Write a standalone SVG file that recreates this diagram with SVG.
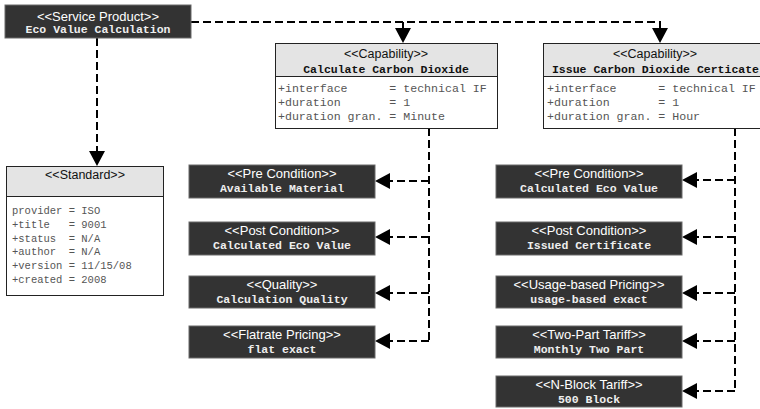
<svg xmlns="http://www.w3.org/2000/svg" width="760" height="409" viewBox="0 0 760 409">
  <style>
    .dark rect { fill: #333333; stroke: #6a6a6a; stroke-width: 1; }
    .st { font-family: "Liberation Sans", Arial, sans-serif; font-size: 13px; text-anchor: middle; }
    .dark .st { fill: #ffffff; }
    .nm { font-family: "Liberation Mono", "Courier New", monospace; font-size: 11.5px; font-weight: bold; text-anchor: middle; }
    .dark .nm { fill: #eeeeee; }
    .light .nm { fill: #111111; }
    .light .st { fill: #111111; font-size: 12.5px; }
    .hdr { fill: #e4e4e4; stroke: #222222; stroke-width: 1; }
    .body { fill: #ffffff; stroke: #222222; stroke-width: 1; }
    .attr { font-family: "Liberation Mono", "Courier New", monospace; font-size: 11.6px; fill: #555555; white-space: pre; }
    .attr.small { font-size: 10.5px; }
    .conn path { fill: none; stroke: #000000; stroke-width: 2; stroke-dasharray: 8 4; }
    .conn polygon { fill: #000000; stroke: none; }
  </style>

  <!-- connectors -->
  <g id="connectors" class="conn">
    <!-- service product to capabilities and standard -->
    <path d="M191,22 H660 V29"/>
    <path d="M403,22 V29"/>
    <polygon points="395,28 411,28 403,43"/>
    <polygon points="652,28 668,28 660,43"/>
    <path d="M97,38 V152"/>
    <polygon points="89,151 105,151 97,166"/>

    <!-- capability 1 to its properties -->
    <path d="M429,128 V341"/>
    <path d="M429,181 H389"/>
    <path d="M429,237 H389"/>
    <path d="M429,293 H389"/>
    <path d="M429,341 H389"/>
    <polygon points="375,181 390,173 390,189"/>
    <polygon points="375,237 390,229 390,245"/>
    <polygon points="375,293 390,285 390,301"/>
    <polygon points="375,341 390,333 390,349"/>

    <!-- capability 2 to its properties -->
    <path d="M735,128 V391"/>
    <path d="M735,180 H696"/>
    <path d="M735,237 H696"/>
    <path d="M735,293 H696"/>
    <path d="M735,341 H696"/>
    <path d="M735,391 H696"/>
    <polygon points="682,180 697,172 697,188"/>
    <polygon points="682,237 697,229 697,245"/>
    <polygon points="682,293 697,285 697,301"/>
    <polygon points="682,341 697,333 697,349"/>
    <polygon points="682,391 697,383 697,399"/>
  </g>

  <!-- service product -->
  <g id="service-product" class="dark">
    <rect x="5" y="5" width="186" height="33"/>
    <text class="st" x="98" y="20.5">&lt;&lt;Service Product&gt;&gt;</text>
    <text class="nm" x="98" y="33">Eco Value Calculation</text>
  </g>

  <!-- capability: calculate carbon dioxide -->
  <g id="capability-calculate" class="light">
    <rect class="hdr" x="275.5" y="43.5" width="222" height="33"/>
    <rect class="body" x="275.5" y="76.5" width="222" height="52"/>
    <text class="st" x="386" y="58">&lt;&lt;Capability&gt;&gt;</text>
    <text class="nm" x="386" y="72.5">Calculate Carbon Dioxide</text>
    <text class="attr" x="278" y="91.5">+interface      = technical IF</text>
    <text class="attr" x="278" y="105.5">+duration       = 1</text>
    <text class="attr" x="278" y="119.5">+duration gran. = Minute</text>
  </g>

  <!-- capability: issue certificate -->
  <g id="capability-issue" class="light">
    <rect class="hdr" x="543.5" y="43.5" width="224" height="33"/>
    <rect class="body" x="543.5" y="76.5" width="224" height="52"/>
    <text class="st" x="655" y="58">&lt;&lt;Capability&gt;&gt;</text>
    <text class="nm" x="655.5" y="72.5">Issue Carbon Dioxide Certicate</text>
    <text class="attr" x="547" y="91.5">+interface      = technical IF</text>
    <text class="attr" x="547" y="105.5">+duration       = 1</text>
    <text class="attr" x="547" y="119.5">+duration gran. = Hour</text>
  </g>

  <!-- standard -->
  <g id="standard" class="light">
    <rect class="hdr" x="6.5" y="166.5" width="157" height="30"/>
    <rect class="body" x="6.5" y="196.5" width="157" height="99"/>
    <text class="st" x="85" y="179">&lt;&lt;Standard&gt;&gt;</text>
    <text class="attr small" x="12" y="214">provider = ISO</text>
    <text class="attr small" x="12" y="227.8">+title   = 9001</text>
    <text class="attr small" x="12" y="241.6">+status  = N/A</text>
    <text class="attr small" x="12" y="255.4">+author  = N/A</text>
    <text class="attr small" x="12" y="269.2">+version = 11/15/08</text>
    <text class="attr small" x="12" y="283">+created = 2008</text>
  </g>

  <!-- properties of capability 1 -->
  <g id="pre-condition-1" class="dark">
    <rect x="189" y="165" width="186" height="33"/>
    <text class="st" x="282" y="178">&lt;&lt;Pre Condition&gt;&gt;</text>
    <text class="nm" x="282" y="192">Available Material</text>
  </g>
  <g id="post-condition-1" class="dark">
    <rect x="189" y="222" width="186" height="33"/>
    <text class="st" x="282" y="235">&lt;&lt;Post Condition&gt;&gt;</text>
    <text class="nm" x="282" y="249">Calculated Eco Value</text>
  </g>
  <g id="quality-1" class="dark">
    <rect x="189" y="276" width="186" height="32"/>
    <text class="st" x="282" y="289">&lt;&lt;Quality&gt;&gt;</text>
    <text class="nm" x="282" y="303">Calculation Quality</text>
  </g>
  <g id="flatrate-pricing-1" class="dark">
    <rect x="189" y="326" width="186" height="32"/>
    <text class="st" x="282" y="339">&lt;&lt;Flatrate Pricing&gt;&gt;</text>
    <text class="nm" x="282" y="353">flat exact</text>
  </g>

  <!-- properties of capability 2 -->
  <g id="pre-condition-2" class="dark">
    <rect x="496" y="165" width="186" height="33"/>
    <text class="st" x="589" y="178">&lt;&lt;Pre Condition&gt;&gt;</text>
    <text class="nm" x="589" y="192">Calculated Eco Value</text>
  </g>
  <g id="post-condition-2" class="dark">
    <rect x="496" y="222" width="186" height="33"/>
    <text class="st" x="589" y="235">&lt;&lt;Post Condition&gt;&gt;</text>
    <text class="nm" x="589" y="249">Issued Certificate</text>
  </g>
  <g id="usage-pricing-2" class="dark">
    <rect x="496" y="276" width="186" height="32"/>
    <text class="st" x="589" y="289">&lt;&lt;Usage-based Pricing&gt;&gt;</text>
    <text class="nm" x="589" y="303">usage-based exact</text>
  </g>
  <g id="two-part-tariff-2" class="dark">
    <rect x="496" y="326" width="186" height="32"/>
    <text class="st" x="589" y="339">&lt;&lt;Two-Part Tariff&gt;&gt;</text>
    <text class="nm" x="589" y="353">Monthly Two Part</text>
  </g>
  <g id="n-block-tariff-2" class="dark">
    <rect x="496" y="376" width="186" height="31"/>
    <text class="st" x="589" y="389">&lt;&lt;N-Block Tariff&gt;&gt;</text>
    <text class="nm" x="589" y="403">500 Block</text>
  </g>
</svg>
